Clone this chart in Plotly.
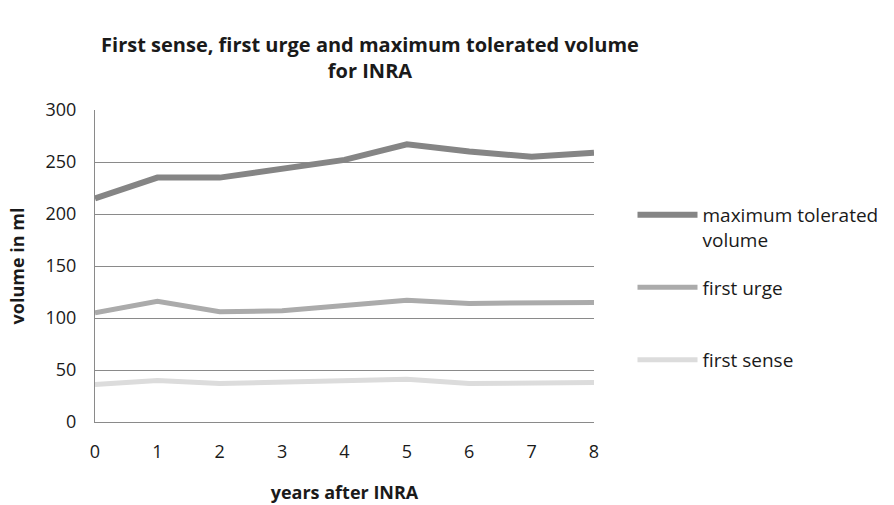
import plotly.graph_objects as go

years = [0, 1, 2, 3, 4, 5, 6, 7, 8]
max_tolerated = [215, 235, 235, 244, 252, 267, 260, 255, 259]
first_urge = [105, 116, 106, 107, 112, 117, 114, 114, 115]
first_sense = [36, 40, 37, 38, 40, 41, 37, 37, 38]

FONT = "Open Sans"

fig = go.Figure()
fig.add_trace(go.Scatter(x=years, y=max_tolerated, mode="lines", name="maximum tolerated<br>volume",
                         line=dict(color="#858585", width=6), legendgroup="a"))
fig.add_trace(go.Scatter(x=years, y=first_urge, mode="lines", name="first urge<br> ",
                         line=dict(color="#ababab", width=5), legendgroup="b"))
fig.add_trace(go.Scatter(x=years, y=first_sense, mode="lines", name="first sense",
                         line=dict(color="#dcdcdc", width=5), legendgroup="c"))

fig.update_layout(
    width=894, height=505,
    margin=dict(l=95, r=299, t=110, b=83),
    paper_bgcolor="white", plot_bgcolor="white",
    font=dict(family=FONT, color="#1a1a1a", size=18),
    title=dict(text="<b>First sense, first urge and maximum tolerated volume<br>for INRA</b>",
               x=370/894, xanchor="center", xref="container", y=1-52/505, yanchor="top",
               font=dict(size=20, family=FONT)),
    showlegend=True,
    legend=dict(x=1.075, xanchor="left", y=(422-196)/312, yanchor="top", tracegroupgap=20,
                itemwidth=60, valign="top", font=dict(size=19, family=FONT), traceorder="grouped"),
)
fig.update_xaxes(range=[0, 8], tickvals=years, showgrid=False, showline=True, linecolor="#8a8a8a",
                 linewidth=1, ticks="", zeroline=False, ticklabelstandoff=13, automargin=False,
                 title=dict(text="<b>years after INRA</b>", font=dict(size=18), standoff=24))
fig.update_yaxes(range=[0, 300], tickvals=[0, 50, 100, 150, 200, 250, 300], showgrid=True,
                 gridcolor="#8a8a8a", gridwidth=1, showline=True, linecolor="#8a8a8a",
                 zeroline=False, ticks="", ticklabelstandoff=14, automargin=False,
                 title=dict(text="<b>volume in ml</b>", font=dict(size=18), standoff=16))

fig.write_html("out.html")
